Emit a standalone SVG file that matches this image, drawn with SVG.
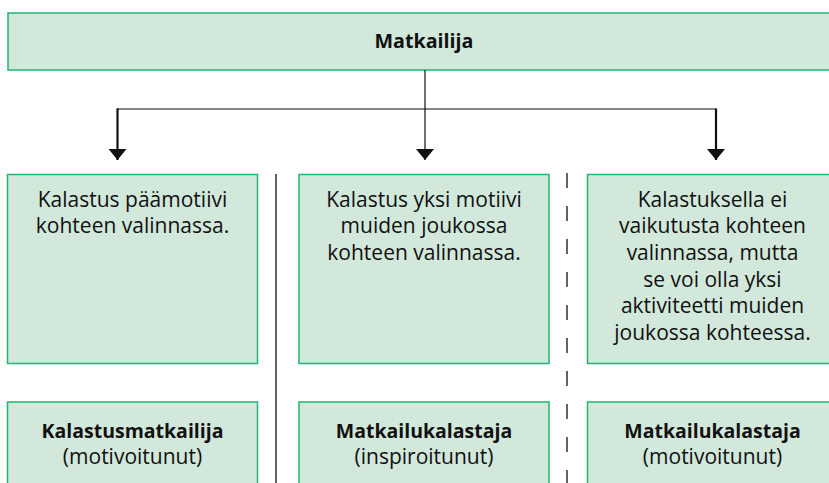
<svg xmlns="http://www.w3.org/2000/svg" width="829" height="483" viewBox="0 0 829 483">
<style>
.box{fill:#d1e8db;stroke:#22b573;stroke-width:1.5}
.t{font-family:"Open Sans","Noto Sans","Liberation Sans",sans-serif;font-size:21px;fill:#111;text-anchor:middle}
.b{font-weight:bold;font-size:19.5px}
.conn{stroke:#111;fill:none}
</style>
<defs>
<marker id="ah" markerUnits="userSpaceOnUse" markerWidth="12" markerHeight="18" refX="11" refY="9" orient="auto">
<path d="M0,0 L11,9 L0,18 z" fill="#111"/>
</marker>
</defs>
<rect width="829" height="483" fill="#fff"/>
<g id="matkailija">
<rect class="box" x="8" y="13" width="840" height="57"/>
<text class="t b" x="424" y="48" style="font-size:19.7px">Matkailija</text>
</g>
<g id="connectors">
<line class="conn" x1="425" y1="70" x2="425" y2="160" stroke-width="1.2" marker-end="url(#ah)"/>
<line class="conn" x1="117" y1="109" x2="716" y2="109" stroke-width="1.2"/>
<line class="conn" x1="117.5" y1="108.5" x2="117.5" y2="160" stroke-width="2.2" marker-end="url(#ah)"/>
<line class="conn" x1="716" y1="108.5" x2="716" y2="160" stroke-width="2.2" marker-end="url(#ah)"/>
</g>
<g id="separators">
<line x1="276" y1="174" x2="276" y2="483" stroke="#111" stroke-width="1.3"/>
<line x1="567" y1="173" x2="567" y2="483" stroke="#111" stroke-width="1.3" stroke-dasharray="15 18"/>
</g>
<g id="motive1">
<rect class="box" x="7.5" y="174.5" width="250" height="189"/>
<text class="t" x="132.5" y="206.7">Kalastus päämotiivi</text>
<text class="t" x="132.5" y="233.3">kohteen valinnassa.</text>
</g>
<g id="motive2">
<rect class="box" x="299" y="174.5" width="250" height="189"/>
<text class="t" x="424" y="206.7">Kalastus yksi motiivi</text>
<text class="t" x="424" y="233.3">muiden joukossa</text>
<text class="t" x="424" y="260">kohteen valinnassa.</text>
</g>
<g id="motive3">
<rect class="box" x="587.5" y="174.5" width="251" height="189"/>
<text class="t" x="712.5" y="206.7">Kalastuksella ei</text>
<text class="t" x="712.5" y="233.3">vaikutusta kohteen</text>
<text class="t" x="712.5" y="260">valinnassa, mutta</text>
<text class="t" x="712.5" y="286.7">se voi olla yksi</text>
<text class="t" x="712.5" y="313.3">aktiviteetti muiden</text>
<text class="t" x="712.5" y="340">joukossa kohteessa.</text>
</g>
<g id="type1">
<rect class="box" x="7.5" y="402" width="250" height="100"/>
<text class="t b" x="132.5" y="437.5">Kalastusmatkailija</text>
<text class="t" x="132.5" y="464">(motivoitunut)</text>
</g>
<g id="type2">
<rect class="box" x="299" y="402" width="250" height="100"/>
<text class="t b" x="424" y="437.5">Matkailukalastaja</text>
<text class="t" x="424" y="464">(inspiroitunut)</text>
</g>
<g id="type3">
<rect class="box" x="587.5" y="402" width="251" height="100"/>
<text class="t b" x="712.5" y="437.5">Matkailukalastaja</text>
<text class="t" x="712.5" y="464">(motivoitunut)</text>
</g>
</svg>
